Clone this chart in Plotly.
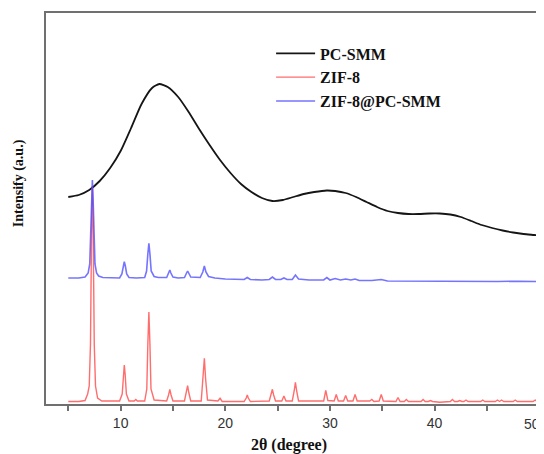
import plotly.graph_objects as go

# ---- data (intensity in arbitrary units, already offset as in the figure) ----
pc_x = [5, 6, 7, 8, 9, 10, 11, 12, 13, 13.7, 14.5, 15.5, 16.5, 17.5, 18.5, 19.5, 20.5,
        21.5, 22.5, 23.5, 24.5, 25.5, 26.5, 27.5, 28.5, 29.7, 30.5, 31.5, 32.5, 33.5,
        34.5, 35.5, 36.5, 37.5, 38.5, 39.5, 40.5, 41.5, 42.5, 43.5, 44.5, 45.5, 46.5,
        47.5, 48.5, 49.5, 50]
pc_y = [207, 209, 214, 223, 236, 253, 276, 300, 316, 320, 317, 307, 292, 275, 259, 244,
        231, 220, 212, 206, 203, 204, 207, 210, 212, 213.5, 213, 211, 207, 202, 197, 193,
        191, 190, 190, 190.5, 190.5, 189.5, 187, 183, 179, 176, 173.5, 171.5, 170, 169,
        168.5]

zif_x = [5.0, 6.0, 6.6, 6.85, 7.0, 7.12, 7.22, 7.3, 7.38, 7.48, 7.6, 7.8, 8.2, 9.9, 10.15,
         10.27, 10.35, 10.43, 10.55, 10.8, 11.3, 11.45, 11.6, 12.3, 12.5, 12.6, 12.7, 12.8,
         12.9, 13.2, 14.4, 14.58, 14.7, 14.82, 15.0, 16.1, 16.28, 16.4, 16.52, 16.7, 17.7,
         17.88, 18.0, 18.12, 18.3, 19.3, 19.5, 19.7, 21.8, 22.0, 22.1, 22.2, 22.4, 24.2,
         24.38, 24.5, 24.62, 24.8, 25.4, 25.6, 25.8, 26.4, 26.58, 26.7, 26.82, 27.0, 29.4,
         29.6, 29.8, 30.4, 30.6, 30.8, 31.3, 31.5, 31.7, 32.2, 32.4, 32.6, 33.8, 34.0, 34.2,
         34.7, 34.9, 35.1, 36.3, 36.5, 36.7, 37.1, 37.3, 37.5, 38.7, 38.9, 39.1, 39.4, 39.6,
         39.8, 40.5, 41.2, 41.5, 41.7, 41.9, 42.2, 42.4, 42.6, 42.8, 43.0, 43.2, 44.4, 44.6,
         44.8, 45.8, 46.0, 46.2, 46.4, 46.6, 47.5, 47.7, 47.9, 49.4, 49.6, 49.8, 50.0]
zif_y = [2.5, 2.5, 3.5, 10, 18, 60, 170, 218, 170, 60, 18, 6, 3, 3, 10,
         30, 39, 30, 10, 3, 3, 4.5, 3, 3, 15, 60, 92, 60,
         15, 4, 3, 9, 14.7, 9, 3, 3, 11, 18.3, 11, 3, 3,
         25, 45.7, 25, 4, 3, 5.7, 2.5, 2.5, 6, 9, 6, 2.5, 3,
         9, 14.7, 9, 3, 3, 8, 3, 3, 13, 21.7, 13, 3, 3,
         13.5, 3.5, 3, 9.5, 3, 3, 8.5, 3, 3, 9.5, 3, 3, 4.5, 2.5,
         3, 9.5, 3, 2.5, 6.5, 2.5, 2.5, 4.5, 2.5, 2.5, 4.5, 2.5, 2.5, 3.5,
         2.5, 1.8, 1.8, 2.5, 4.5, 2.5, 2.5, 3.5, 2.5, 2.5, 4, 2.5, 2.5, 4,
         2.5, 2.5, 4, 2.5, 4, 2.5, 2.5, 4, 2.5, 2.5, 4, 2.5, 2.5]

comp_x = [5.0, 6.0, 6.6, 6.9, 7.05, 7.15, 7.23, 7.3, 7.37, 7.45, 7.55, 7.7, 7.9, 8.3, 9.0,
          9.9, 10.12, 10.25, 10.35, 10.45, 10.58, 10.8, 11.5, 12.3, 12.48, 12.6, 12.7, 12.8,
          12.92, 13.2, 13.6, 14.4, 14.6, 14.7, 14.8, 15.0, 15.5, 16.1, 16.3, 16.4, 16.5,
          16.7, 17.6, 17.85, 18.0, 18.15, 18.4, 19, 20, 21.8, 22.1, 22.4, 23.5, 24.2, 24.5,
          24.8, 25.3, 25.6, 25.9, 26.4, 26.7, 27.0, 28.0, 29.4, 29.7, 30.0, 30.5, 31.0, 31.5,
          32.0, 32.4, 32.8, 34.0, 34.9, 35.5, 38, 40, 42, 44, 46, 48, 50]
comp_y = [126, 126, 127, 131, 140, 170, 205, 224, 205, 170, 140, 131, 128, 126.5, 126,
          126, 130, 138, 142.3, 138, 130, 126.5, 126, 126.5, 133, 150, 160.7, 150,
          133, 127.5, 126.5, 126.5, 131, 134, 131, 127, 126, 126.5, 131, 133, 131,
          127, 126.5, 132, 138, 132, 127.5, 126, 125, 124.5, 126.5, 124.5, 124, 124.5, 127,
          124.5, 124.5, 126, 124.5, 124.5, 129, 125, 124, 124, 126.5, 124, 125.5, 124, 125,
          124, 125, 123.5, 123.5, 124.5, 123, 122.8, 122.5, 123, 122.5, 122.5, 122.8, 122.5]

series_names = ["PC-SMM", "ZIF-8", "ZIF-8@PC-SMM"]
x_tick_vals = [10, 20, 30, 40, 50]
x_tick_text = ["10", "20", "30", "40", "50"]

fig = go.Figure()
fig.add_trace(go.Scatter(x=pc_x, y=pc_y, mode="lines", name="<b>" + series_names[0] + "</b>",
                         line=dict(color="#151515", width=1.8, shape="spline", smoothing=0.6)))
fig.add_trace(go.Scatter(x=zif_x, y=zif_y, mode="lines", name="<b>" + series_names[1] + "</b>",
                         line=dict(color="rgba(255,60,60,0.75)", width=1.4)))
fig.add_trace(go.Scatter(x=comp_x, y=comp_y, mode="lines", name="<b>" + series_names[2] + "</b>",
                         line=dict(color="rgba(70,70,255,0.75)", width=1.6)))

axis_col = "#707070"
tick_font = dict(family="Liberation Sans", size=14, color="#333333")
# the last label sits at the window edge: draw it as text kept just inside the edge
shown_text = x_tick_text[:-1] + [""]

# the page body adds an 8px offset, so the figure is 8px smaller than the window
fig.update_layout(
    template="none",
    width=536, height=446,
    margin=dict(l=38, r=0, t=5, b=50, pad=0),
    paper_bgcolor="white", plot_bgcolor="white",
    showlegend=True,
    legend=dict(x=0.452, y=0.94, xanchor="left", yanchor="top",
                bgcolor="rgba(0,0,0,0)", borderwidth=0,
                font=dict(family="Liberation Serif", size=16, color="#111111"),
                tracegroupgap=0, itemwidth=39),
    xaxis=dict(range=[2.87, 50.45], showgrid=False, zeroline=False,
               showline=True, linecolor=axis_col, linewidth=2, mirror=True,
               ticks="outside", ticklen=5, tickwidth=1.5, tickcolor=axis_col,
               tickvals=x_tick_vals, ticktext=shown_text, ticklabelstandoff=0,
               tickfont=tick_font,
               minor=dict(dtick=5, tick0=5, ticks="outside", ticklen=5, tickwidth=1.5,
                          tickcolor=axis_col, showgrid=False),
               automargin=False),
    yaxis=dict(range=[0, 391], showgrid=False, zeroline=False,
               showline=True, linecolor=axis_col, linewidth=2, mirror=False,
               ticks="", showticklabels=False, automargin=False),
    annotations=[
        dict(text="<b>Intensify (a.u.)</b>", xref="paper", yref="paper",
             x=-0.054, y=0.565, textangle=-90, showarrow=False,
             xanchor="center", yanchor="middle",
             font=dict(family="Liberation Serif", size=14, color="#111111")),
        dict(text="<b>2θ (degree)</b>", xref="paper", yref="paper",
             x=0.488, y=-0.105, showarrow=False, xanchor="center", yanchor="middle",
             font=dict(family="Liberation Serif", size=16, color="#111111")),
        dict(text=x_tick_text[-1], xref="paper", yref="paper",
             x=0.996, y=-0.052, showarrow=False, xanchor="right", yanchor="middle",
             font=tick_font),
    ],
)

fig.write_html("out.html")
